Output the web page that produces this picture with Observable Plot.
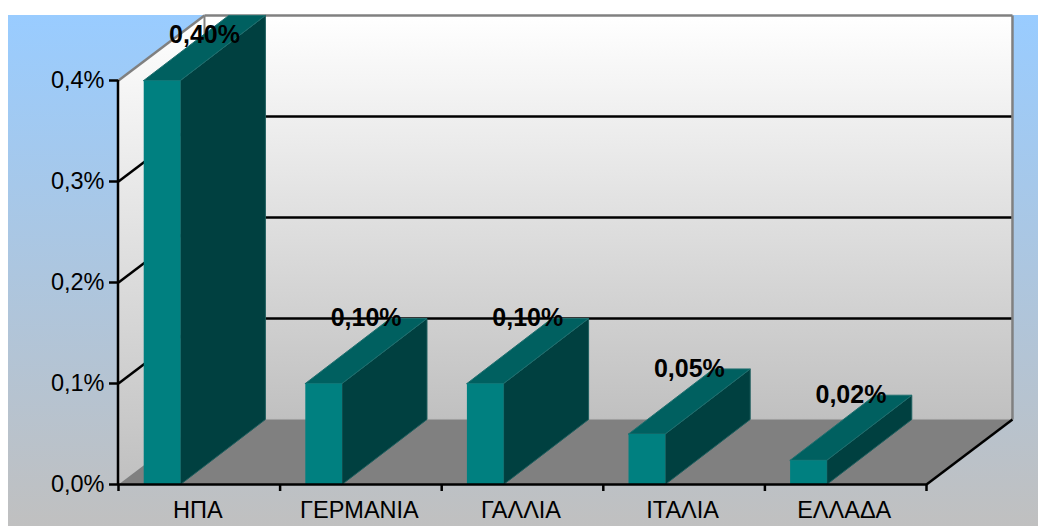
<!DOCTYPE html>
<html>
<head>
<meta charset="utf-8">
<style>html,body{margin:0;padding:0;background:#fff}</style>
<script src="https://cdn.jsdelivr.net/npm/d3@7"></script>
<script src="https://cdn.jsdelivr.net/npm/@observablehq/plot@0.6"></script>
</head>
<body>
<script>
const categories = ["ΗΠΑ", "ΓΕΡΜΑΝΙΑ", "ΓΑΛΛΙΑ", "ΙΤΑΛΙΑ", "ΕΛΛΑΔΑ"];
const values = [0.40, 0.10, 0.10, 0.05, 0.024];
const yTicks = [0, 0.1, 0.2, 0.3, 0.4];

// Oblique projection, in scale units
const depthX = 0.532, depthY = 0.0644, barDepthX = 0.526;
const barStart = 0.156, barWidth = 0.227;
const comma = (s) => s.replace(".", ",");

const poly = (id, pts) => [...pts, pts[0]].map(([x, y]) => ({id, x, y}));
const face = (id, fill, stroke, pts) =>
  Plot.line(poly(id, pts), {x: "x", y: "y", z: "id", fill, stroke: stroke ?? "none", strokeWidth: stroke ? 1 : 0});

const yMax = yTicks[yTicks.length - 1], n = categories.length;
const gridRows = yTicks.slice(1, -1);

const barMarks = values.flatMap((v, i) => {
  const a = i + barStart, b = a + barWidth;
  return [
    face("side" + i, "#004040", "#1f5f5f", [[b, 0], [b + barDepthX, depthY], [b + barDepthX, v + depthY], [b, v]]),
    face("top" + i, "#006060", "#1f6f6f", [[a, v], [b, v], [b + barDepthX, v + depthY], [a + barDepthX, v + depthY]]),
    face("front" + i, "#008080", "none", [[a, 0], [b, 0], [b, v], [a, v]])
  ];
});

const labelRows = values.map((v, i) => ({
  x: i + barStart + barWidth / 2 + barDepthX / 2,
  y: Math.min(v + depthY, yMax + depthY - 0.0198),
  text: comma(v.toFixed(2)) + "%"
}));

const chart = Plot.plot({
  width: 1038, height: 526,
  marginLeft: 118, marginRight: 112, marginTop: 80, marginBottom: 42,
  x: {domain: [0, n]},
  y: {domain: [0, yMax]},
  style: {
    fontFamily: "'Liberation Sans', Arial, sans-serif", fontSize: "23.5px", color: "#000",
    background: "linear-gradient(#99ccff, #c0c0c0) 8px 15px / 1030px 511px no-repeat"
  },
  marks: [
    () => {
      const g = d3.create("svg:g");
      const lg = g.append("defs").append("linearGradient").attr("id", "wall")
        .attr("x1", 0).attr("y1", 0).attr("x2", 0).attr("y2", 1);
      lg.append("stop").attr("offset", 0).attr("stop-color", "#ffffff");
      lg.append("stop").attr("offset", 1).attr("stop-color", "#c0c0c0");
      return g.node();
    },
    // walls
    face("leftwall", "url(#wall)", null, [[0, 0], [0, yMax], [depthX, yMax + depthY], [depthX, depthY]]),
    face("backwall", "url(#wall)", null, [[depthX, depthY], [depthX, yMax + depthY], [n + depthX, yMax + depthY], [n + depthX, depthY]]),
    // gridlines on the walls
    Plot.link(gridRows, {x1: 0, y1: d => d, x2: depthX, y2: d => d + depthY, stroke: "#000", strokeWidth: 2.5}),
    Plot.link(gridRows, {x1: depthX, y1: d => d + depthY, x2: n + depthX, y2: d => d + depthY, stroke: "#000", strokeWidth: 2.5}),
    // wall edges
    Plot.link([0], {x1: 0, y1: yMax, x2: depthX, y2: yMax + depthY, stroke: "#808080", strokeWidth: 2.5}),
    Plot.link([0], {x1: depthX, y1: yMax + depthY, x2: n + depthX, y2: yMax + depthY, stroke: "#808080", strokeWidth: 2.5}),
    Plot.link([0], {x1: depthX, y1: depthY, x2: depthX, y2: yMax + depthY, stroke: "#808080", strokeWidth: 2}),
    Plot.link([0], {x1: n + depthX, y1: depthY, x2: n + depthX, y2: yMax + depthY, stroke: "#808080", strokeWidth: 2.5}),
    // floor
    face("floor", "#808080", null, [[0, 0], [n, 0], [n + depthX, depthY], [depthX, depthY]]),
    Plot.link([0], {x1: depthX, y1: depthY, x2: n + depthX, y2: depthY, stroke: "#a0a0a0", strokeWidth: 1}),
    Plot.link([0], {x1: n, y1: 0, x2: n + depthX, y2: depthY, stroke: "#000", strokeWidth: 2.5}),
    ...barMarks,
    // axes
    Plot.ruleY([0], {stroke: "#000", strokeWidth: 2.5}),
    Plot.ruleX([0], {stroke: "#000", strokeWidth: 2.5, dx: -0.5}),
    Plot.axisY({ticks: yTicks, tickFormat: d => comma(d.toFixed(1)) + "%", tickSize: 9, tickPadding: 5, strokeWidth: 2.5, label: null, fontVariant: "normal"}),
    Plot.axisX({ticks: d3.range(n + 1), tickFormat: () => "", tickSize: 7, strokeWidth: 2.5, label: null}),
    Plot.text(categories, {x: (d, i) => i + 0.5, y: 0, text: d => d, dx: -1.5, dy: 26, fontSize: 23.5, fill: "#000"}),
    // value labels
    Plot.text(labelRows, {x: "x", y: "y", text: "text", fontSize: 25, fontWeight: "bold", fill: "#000"})
  ]
});
document.body.appendChild(chart);
</script>
</body>
</html>
